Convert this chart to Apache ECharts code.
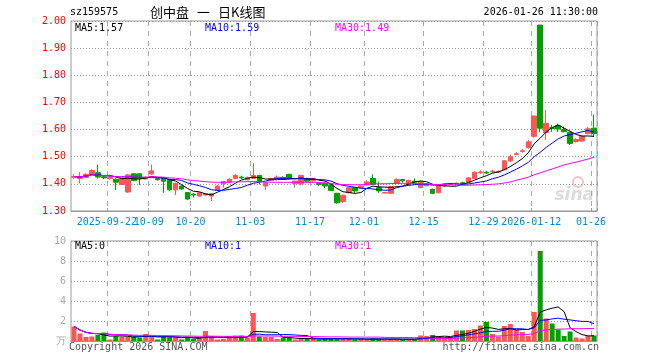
<!DOCTYPE html>
<html><head><meta charset="utf-8">
<script src="https://cdn.jsdelivr.net/npm/echarts@6/dist/echarts.min.js"></script>
<style>html,body{margin:0;padding:0;background:#fff}#c{width:660px;height:360px}</style>
</head><body><div id="c"></div>
<script>
const dates = ['2025-09-12','2025-09-15','2025-09-16','2025-09-17','2025-09-18','2025-09-19',
'2025-09-22','2025-09-23','2025-09-24','2025-09-25','2025-09-26','2025-09-29','2025-09-30',
'2025-10-09','2025-10-10','2025-10-13','2025-10-14','2025-10-15','2025-10-16','2025-10-17',
'2025-10-20','2025-10-21','2025-10-22','2025-10-23','2025-10-24','2025-10-27','2025-10-28','2025-10-29','2025-10-30','2025-10-31',
'2025-11-03','2025-11-04','2025-11-05','2025-11-06','2025-11-07','2025-11-10','2025-11-11','2025-11-12','2025-11-13','2025-11-14',
'2025-11-17','2025-11-18','2025-11-19','2025-11-20','2025-11-21','2025-11-24','2025-11-25','2025-11-26','2025-11-27',
'2025-12-01','2025-12-02','2025-12-03','2025-12-04','2025-12-05','2025-12-08','2025-12-09','2025-12-10','2025-12-11','2025-12-12',
'2025-12-15','2025-12-16','2025-12-17','2025-12-18','2025-12-19','2025-12-22','2025-12-23','2025-12-24','2025-12-25','2025-12-26',
'2025-12-29','2025-12-30','2025-12-31','2026-01-05','2026-01-06','2026-01-07','2026-01-08','2026-01-09',
'2026-01-12','2026-01-13','2026-01-14','2026-01-15','2026-01-16','2026-01-19','2026-01-20','2026-01-21','2026-01-22','2026-01-23',
'2026-01-26'];

const opens = [1.424,1.420,1.423,1.435,1.441,1.426,1.420,1.417,1.398,1.370,
1.437,1.437,1.418,1.436,1.419,1.423,1.413,1.378,1.392,1.368,
1.362,1.355,1.359,1.355,1.376,1.400,1.407,1.420,1.425,1.415,
1.420,1.431,1.392,1.413,1.415,1.424,1.435,1.401,1.400,1.420,
1.411,1.401,1.401,1.396,1.365,1.335,1.367,1.386,1.386,1.396,
1.420,1.386,1.366,1.365,1.402,1.416,1.398,1.410,1.386,1.393,
1.380,1.367,1.392,1.398,1.400,1.404,1.406,1.420,1.441,1.443,
1.444,1.443,1.452,1.484,1.508,1.519,1.533,1.575,1.985,1.589,
1.607,1.614,1.600,1.590,1.556,1.558,1.585,1.605];

const closes = [1.427,1.424,1.435,1.449,1.425,1.422,1.424,1.406,1.418,1.433,
1.412,1.420,1.424,1.448,1.415,1.410,1.378,1.402,1.381,1.344,
1.359,1.367,1.364,1.364,1.392,1.408,1.417,1.431,1.422,1.423,
1.431,1.410,1.404,1.419,1.425,1.421,1.420,1.410,1.431,1.410,
1.420,1.398,1.392,1.376,1.330,1.358,1.386,1.374,1.392,1.407,
1.398,1.374,1.368,1.389,1.416,1.411,1.413,1.406,1.408,1.401,
1.365,1.392,1.398,1.400,1.402,1.401,1.422,1.443,1.444,1.440,
1.447,1.446,1.485,1.500,1.511,1.522,1.555,1.650,1.605,1.623,
1.604,1.602,1.592,1.549,1.563,1.575,1.603,1.585];

const lows = [1.418,1.402,1.421,1.433,1.420,1.418,1.416,1.377,1.396,1.367,
1.410,1.396,1.416,1.434,1.413,1.367,1.375,1.359,1.378,1.341,
1.350,1.353,1.357,1.337,1.374,1.386,1.405,1.418,1.418,1.413,
1.418,1.398,1.377,1.411,1.413,1.418,1.417,1.386,1.395,1.408,
1.409,1.392,1.384,1.374,1.327,1.330,1.365,1.367,1.384,1.394,
1.396,1.367,1.365,1.363,1.400,1.405,1.396,1.402,1.384,1.391,
1.362,1.365,1.388,1.395,1.398,1.398,1.404,1.418,1.436,1.437,
1.440,1.440,1.450,1.482,1.505,1.515,1.530,1.570,1.590,1.562,
1.592,1.590,1.590,1.543,1.552,1.556,1.583,1.575];

const highs = [1.436,1.443,1.439,1.454,1.470,1.430,1.428,1.420,1.420,1.436,
1.439,1.439,1.427,1.471,1.422,1.425,1.415,1.404,1.394,1.370,
1.366,1.369,1.366,1.366,1.395,1.410,1.420,1.436,1.430,1.427,
1.476,1.433,1.405,1.422,1.431,1.428,1.437,1.412,1.434,1.422,
1.422,1.404,1.403,1.398,1.367,1.360,1.388,1.388,1.394,1.414,
1.435,1.408,1.370,1.391,1.420,1.418,1.415,1.420,1.410,1.403,
1.382,1.394,1.400,1.403,1.405,1.408,1.424,1.446,1.450,1.448,
1.452,1.450,1.487,1.508,1.518,1.528,1.562,1.652,1.985,1.672,
1.617,1.622,1.612,1.593,1.568,1.578,1.610,1.655];

const volumes = [1.45,0.75,0.4,0.45,0.6,0.85,0.15,0.5,0.45,0.4,
0.45,0.35,0.7,0.4,0.15,0.55,0.45,0.35,0.15,0.35,
0.2,0.2,1.0,0.4,0.15,0.2,0.4,0.55,0.55,0.35,
2.8,0.45,0.4,0.4,0.2,0.35,0.35,0.15,0.2,0.2,
0.25,0.15,0.25,0.2,0.3,0.2,0.2,0.15,0.2,0.15,
0.25,0.2,0.15,0.2,0.2,0.15,0.2,0.15,0.55,0.5,
0.6,0.45,0.3,0.4,1.05,1.05,1.1,1.2,1.55,1.9,
0.7,0.45,1.5,1.7,1.15,0.9,0.5,2.9,9.0,2.25,
1.75,1.15,0.5,0.95,0.35,0.25,0.5,0.55];

const tickDates = ['2025-09-22','2025-10-09','2025-10-20','2025-11-03','2025-11-17','2025-12-01','2025-12-15','2025-12-29','2026-01-12','2026-01-26'];
const tickLabels = ['2025-09-22','10-09','10-20','11-03','11-17','12-01','12-15','12-29','2026-01-12','01-26'];
const priceTicks = {min:1.3, max:2.0, interval:0.1};
const volTicks = {min:0, max:10, interval:2};
const maLabelsMain = ['MA5:1.57','MA10:1.59','MA30:1.49'];
const maLabelsVol = ['MA5:0','MA10:1','MA30:1'];
const headerCode = 'sz159575';
const headerTitle = ['创中盘','一','日K线图'];
const headerTime = '2026-01-26 11:30:00';

const UP = '#ff5555', DOWN = '#00a000';
const MA_COLORS = ['#000000','#0000ff','#ff00ff'];
const MONO = '"DejaVu Sans Mono", "Liberation Mono", monospace';

function ma(arr, n){
  return arr.map((_, i) => {
    const s = Math.max(0, i - n + 1); let sum = 0;
    for (let j = s; j <= i; j++) sum += arr[j];
    return +(sum / (i - s + 1)).toFixed(4);
  });
}
const kData = dates.map((d, i) => [opens[i], closes[i], lows[i], highs[i]]);
const volData = volumes.map((v, i) => ({value: v, itemStyle: {color: closes[i] >= opens[i] ? UP : DOWN}}));
const tickSet = new Set(tickDates);
const tickFn = (idx, val) => tickSet.has(val);
// first label is drawn by a companion axis so that it may touch its neighbour as in the reference
const labelSetA = new Set(tickDates.slice(1));
const labelSetB = new Set(tickDates.slice(0, 1));
const fmt = v => { const k = tickDates.indexOf(v); return k >= 0 ? tickLabels[k] : ''; };
const labelStyle = {color: '#0a86d6', fontFamily: MONO, fontSize: 10, margin: 6, padding: [0, 6, 0, 0],
  hideOverlap: false, formatter: fmt};

const xBase = (gi, showLabel) => ({
  type: 'category', gridIndex: gi, data: dates, boundaryGap: true,
  axisLine: {show: true, lineStyle: {color: '#999'}},
  axisTick: {show: showLabel, inside: true, length: 3, interval: tickFn, lineStyle: {color: '#999'}},
  axisLabel: Object.assign({show: showLabel, interval: (i, v) => labelSetA.has(v), showMinLabel: true, showMaxLabel: true}, labelStyle),
  splitLine: {show: true, interval: tickFn, lineStyle: {type: [5, 5], color: '#aaa', width: 1}}
});
const xFirstLabel = {
  type: 'category', gridIndex: 0, data: dates, boundaryGap: true, position: 'bottom', offset: 0,
  axisLine: {show: false}, axisTick: {show: false}, splitLine: {show: false},
  axisLabel: Object.assign({show: true, interval: (i, v) => labelSetB.has(v), showMinLabel: true}, labelStyle)
};

const txt = (x, y, text, fill, opts) => Object.assign({type: 'text', x: x, y: y, silent: true,
  style: Object.assign({text: text, fill: fill, font: '10px ' + MONO, textAlign: 'left', textVerticalAlign: 'middle'}, opts || {})});

const graphics = [
  txt(70, 12, headerCode, '#000'),
  txt(150, 12, headerTitle[0], '#000', {font: '13px "Noto Sans CJK SC"'}),
  txt(197, 12, headerTitle[1], '#000', {font: '13px "Noto Sans CJK SC"'}),
  txt(218, 12, headerTitle[2], '#000', {font: '13px "Noto Sans CJK SC"'}),
  txt(598, 12, headerTime, '#000', {textAlign: 'right'}),
  txt(75, 28, maLabelsMain[0], MA_COLORS[0]),
  txt(205, 28, maLabelsMain[1], MA_COLORS[1]),
  txt(335, 28, maLabelsMain[2], MA_COLORS[2]),
  txt(75, 246, maLabelsVol[0], MA_COLORS[0]),
  txt(205, 246, maLabelsVol[1], MA_COLORS[1]),
  txt(335, 246, maLabelsVol[2], MA_COLORS[2]),
  txt(69, 347, 'Copyright 2026 SINA.COM', '#555'),
  txt(599, 347, 'http://finance.sina.com.cn', '#555', {textAlign: 'right'}),
  {type: 'circle', shape: {cx: 578, cy: 182, r: 5}, silent: true, style: {fill: 'none', stroke: '#f2c4c4', lineWidth: 2}},
  txt(594, 196, 'sina', '#dcdcdc', {textAlign: 'right', font: 'italic bold 17px "DejaVu Sans"'})
];

const chart = echarts.init(document.getElementById('c'), null, {renderer: 'canvas'});
chart.setOption({
  animation: false,
  backgroundColor: '#fff',
  grid: [
    {left: 71, right: 63, top: 21, height: 190, show: true, borderColor: '#999', borderWidth: 1},
    {left: 71, right: 63, top: 241, height: 100, show: true, borderColor: '#999', borderWidth: 1}
  ],
  xAxis: [xBase(0, true), xBase(1, false), xFirstLabel],
  yAxis: [
    {gridIndex: 0, type: 'value', min: priceTicks.min, max: priceTicks.max, interval: priceTicks.interval,
      axisLine: {show: false}, axisTick: {show: false},
      axisLabel: {color: '#ff0000', fontFamily: MONO, fontSize: 10, margin: 5, formatter: v => v.toFixed(2)},
      splitLine: {show: true, lineStyle: {type: [1, 2], color: '#999'}}},
    {gridIndex: 1, type: 'value', min: volTicks.min, max: volTicks.max, interval: volTicks.interval,
      axisLine: {show: false}, axisTick: {show: false},
      axisLabel: {color: '#aaa', fontFamily: MONO, fontSize: 10, margin: 5, formatter: v => v === 0 ? '万' : String(v)},
      splitLine: {show: true, lineStyle: {type: [1, 2], color: '#999'}}}
  ],
  series: [
    {type: 'candlestick', xAxisIndex: 0, yAxisIndex: 0, data: kData, barWidth: 5,
      itemStyle: {color: UP, color0: DOWN, borderColor: UP, borderColor0: DOWN, borderWidth: 1}},
    {type: 'line', xAxisIndex: 0, yAxisIndex: 0, data: ma(closes, 5), showSymbol: false, lineStyle: {color: MA_COLORS[0], width: 1}, z: 5},
    {type: 'line', xAxisIndex: 0, yAxisIndex: 0, data: ma(closes, 10), showSymbol: false, lineStyle: {color: MA_COLORS[1], width: 1}, z: 5},
    {type: 'line', xAxisIndex: 0, yAxisIndex: 0, data: ma(closes, 30), showSymbol: false, lineStyle: {color: MA_COLORS[2], width: 1}, z: 5},
    {type: 'bar', xAxisIndex: 1, yAxisIndex: 1, data: volData, barWidth: 5},
    {type: 'line', xAxisIndex: 1, yAxisIndex: 1, data: ma(volumes, 5), showSymbol: false, lineStyle: {color: MA_COLORS[0], width: 1}, z: 5},
    {type: 'line', xAxisIndex: 1, yAxisIndex: 1, data: ma(volumes, 10), showSymbol: false, lineStyle: {color: MA_COLORS[1], width: 1}, z: 5},
    {type: 'line', xAxisIndex: 1, yAxisIndex: 1, data: ma(volumes, 30), showSymbol: false, lineStyle: {color: MA_COLORS[2], width: 1}, z: 5}
  ],
  graphic: graphics
});
</script></body></html>
